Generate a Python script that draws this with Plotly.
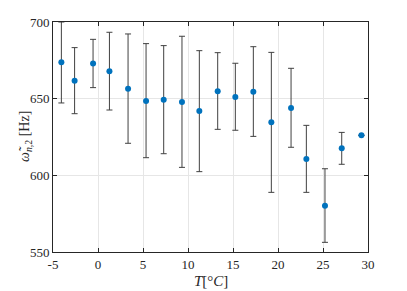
import plotly.graph_objects as go

temps = [-4.07, -2.6, -0.55, 1.27, 3.34, 5.34, 7.3, 9.33, 11.26, 13.3,
         15.26, 17.26, 19.26, 21.45, 23.15, 25.22, 27.08, 29.27]
omega = [673.7, 661.7, 673.0, 667.8, 656.5, 648.5, 649.3, 647.8, 641.9, 654.8,
         651.1, 654.5, 634.6, 643.9, 610.6, 580.2, 617.6, 626.1]
upper = [700.0, 683.3, 688.7, 693.3, 692.2, 685.9, 684.6, 690.7, 681.3, 680.0,
         673.1, 683.9, 680.2, 669.8, 632.6, 604.3, 628.0, 626.1]
lower = [647.2, 640.2, 657.2, 642.6, 620.9, 611.5, 614.1, 605.2, 602.4, 630.0,
         629.4, 625.4, 588.9, 618.3, 588.9, 556.3, 607.2, 626.1]

x_ticks = [-5, 0, 5, 10, 15, 20, 25, 30]
y_ticks = [550, 600, 650, 700]

err_plus = [u - o for u, o in zip(upper, omega)]
err_minus = [o - l for o, l in zip(omega, lower)]

SERIF = "'Liberation Serif', 'DejaVu Serif', serif"

fig = go.Figure()
fig.add_trace(go.Scatter(
    x=temps, y=omega, mode="markers",
    marker=dict(color="#0072BD", size=6),
    error_y=dict(type="data", symmetric=False, array=err_plus, arrayminus=err_minus,
                 color="#404040", thickness=1, width=3),
    showlegend=False, cliponaxis=True,
))

axis_common = dict(
    showline=True, linecolor="#262626", linewidth=1, mirror="ticks",
    ticks="inside", ticklen=4, tickcolor="#262626",
    showgrid=True, gridcolor="#e6e6e6", gridwidth=1, zeroline=False,
    automargin=False,
    tickfont=dict(family=SERIF, size=13, color="#262626"),
)

fig.update_layout(
    width=399, height=283,
    margin=dict(l=45, r=39, t=14, b=39),
    paper_bgcolor="white", plot_bgcolor="white",
    font=dict(family=SERIF, color="#262626", size=13),
    xaxis=dict(range=[-5, 30], tickvals=x_ticks, ticktext=[str(v) for v in x_ticks],
               **axis_common),
    yaxis=dict(range=[550, 700], tickvals=y_ticks, ticktext=[str(v) for v in y_ticks],
               **axis_common),
    annotations=[
        dict(text="<i>T</i>[°<i>C</i>]", xref="paper", yref="paper", x=0.5, y=0,
             xanchor="center", yanchor="middle", yshift=-29, showarrow=False,
             font=dict(family=SERIF, size=15, color="#262626")),
        dict(text="<i>\u03c9\u0303</i><sub><i>n</i>,2</sub> [Hz]", xref="paper", yref="paper",
             x=0, y=0.5, xanchor="center", yanchor="middle", xshift=-28, textangle=-90,
             showarrow=False, font=dict(family=SERIF, size=14, color="#262626")),
    ],
)

fig.write_html("out.html")
